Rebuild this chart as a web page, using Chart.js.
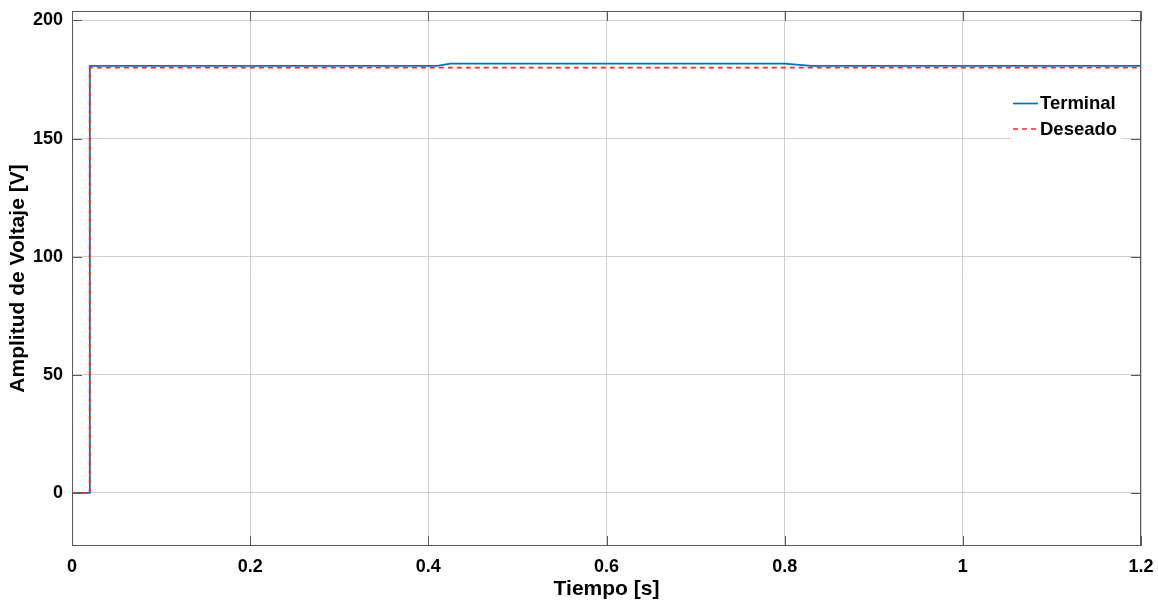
<!DOCTYPE html>
<html>
<head>
<meta charset="utf-8">
<script src="https://cdn.jsdelivr.net/npm/chart.js@4.4.0/dist/chart.umd.min.js"></script>
<style>
  body { margin: 0; background: #fff; }
  #wrap { width: 1158px; height: 605px; }
</style>
</head>
<body>
<div id="wrap"><canvas id="volt"></canvas></div>
<script>
// data
var tiempoTerminal = [0, 0.02, 0.02, 0.41, 0.425, 0.80, 0.83, 1.2];
var vTerminal = [0, 0, 180.8, 180.8, 181.7, 181.7, 180.8, 180.8];
var tiempoDeseado = [0, 0.02, 0.02, 1.2];
var vDeseado = [0, 0, 180, 180];
var yTicks = [0, 50, 100, 150, 200];
var xTicks = [0, 0.2, 0.4, 0.6, 0.8, 1, 1.2];
var seriesNames = ['Terminal', 'Deseado'];

function toPoints(xs, ys) {
  var pts = [];
  for (var i = 0; i < xs.length; i++) pts.push({x: xs[i], y: ys[i]});
  return pts;
}

var FONT = 'Liberation Sans, Arial, sans-serif';

// matlab style box, inner ticks and legend
var boxPlugin = {
  id: 'box',
  afterDatasetsDraw: function(chart) {
    var c = chart.ctx, a = chart.chartArea;
    var xs = chart.scales.x, ys = chart.scales.y;
    c.save();
    c.strokeStyle = '#5a5a5a';
    c.lineWidth = 1;
    c.strokeRect(a.left + 0.5, a.top + 0.5, a.right - a.left - 1, a.bottom - a.top - 1);
    c.beginPath();
    xTicks.forEach(function(t) {
      var px = Math.round(xs.getPixelForValue(t)) + 0.5;
      c.moveTo(px, a.bottom); c.lineTo(px, a.bottom - 10);
      c.moveTo(px, a.top); c.lineTo(px, a.top + 10);
    });
    yTicks.forEach(function(t) {
      var py = Math.round(ys.getPixelForValue(t)) + 0.5;
      c.moveTo(a.left, py); c.lineTo(a.left + 10, py);
      c.moveTo(a.right, py); c.lineTo(a.right - 10, py);
    });
    c.stroke();

    // legend
    var lx = 1011, ly = 90;
    c.fillStyle = '#fff';
    c.fillRect(lx, ly, 111, 50);
    c.font = 'bold 18.5px ' + FONT;
    c.textBaseline = 'middle';
    c.fillStyle = '#000';
    var ds = chart.data.datasets;
    for (var i = 0; i < ds.length; i++) {
      var y = ly + 14 + i * 25.5;
      c.beginPath();
      c.strokeStyle = ds[i].borderColor;
      c.lineWidth = 1.7;
      c.setLineDash(ds[i].borderDash || []);
      c.moveTo(lx + 2, y - 0.5); c.lineTo(lx + 27, y - 0.5);
      c.stroke();
      c.setLineDash([]);
      c.fillText(seriesNames[i], lx + 29, y);
    }
    c.restore();
  }
};

var ctx = document.getElementById('volt');
new Chart(ctx, {
  type: 'line',
  data: {
    datasets: [{
      label: seriesNames[0],
      data: toPoints(tiempoTerminal, vTerminal),
      borderColor: '#0072BD',
      borderWidth: 1.8,
      pointRadius: 0,
      tension: 0,
      fill: false,
      order: 2
    }, {
      label: seriesNames[1],
      data: toPoints(tiempoDeseado, vDeseado),
      borderColor: '#FF2828',
      borderWidth: 1.8,
      borderDash: [5, 4],
      pointRadius: 0,
      tension: 0,
      fill: false,
      order: 1
    }]
  },
  options: {
    animation: false,
    responsive: true,
    maintainAspectRatio: false,
    layout: { padding: { left: 0, top: 11, right: 17, bottom: 0 } },
    plugins: { legend: { display: false }, tooltip: { enabled: false } },
    scales: {
      x: {
        type: 'linear',
        min: 0, max: 1.2,
        afterBuildTicks: function(axis) { axis.ticks = xTicks.map(function(v) { return {value: v}; }); },
        afterFit: function(axis) { axis.height = 59; axis.paddingLeft = 0; axis.paddingRight = 0; },
        grid: { color: '#cfcfcf', drawTicks: false },
        border: { display: false },
        ticks: {
          padding: 10,
          color: '#000',
          font: { family: FONT, size: 18, weight: 'bold' },
          maxRotation: 0,
          callback: function(v) { return String(Math.round(v * 10) / 10); }
        },
        title: {
          display: true, text: 'Tiempo [s]', color: '#000',
          font: { family: FONT, size: 21, weight: 'bold' },
          padding: { top: 0, bottom: 3 }
        }
      },
      y: {
        min: -22.5, max: 204,
        afterBuildTicks: function(axis) { axis.ticks = yTicks.map(function(v) { return {value: v}; }); },
        afterFit: function(axis) { axis.width = 72; axis.paddingTop = 0; axis.paddingBottom = 0; },
        grid: { color: '#cfcfcf', drawTicks: false },
        border: { display: false },
        ticks: {
          padding: 9,
          color: '#000',
          font: { family: FONT, size: 18, weight: 'bold' }
        },
        title: {
          display: true, text: 'Amplitud de Voltaje [V]', color: '#000',
          font: { family: FONT, size: 21, weight: 'bold' },
          padding: { top: 6, bottom: 0 }
        }
      }
    }
  },
  plugins: [boxPlugin]
});
</script>
</body>
</html>
